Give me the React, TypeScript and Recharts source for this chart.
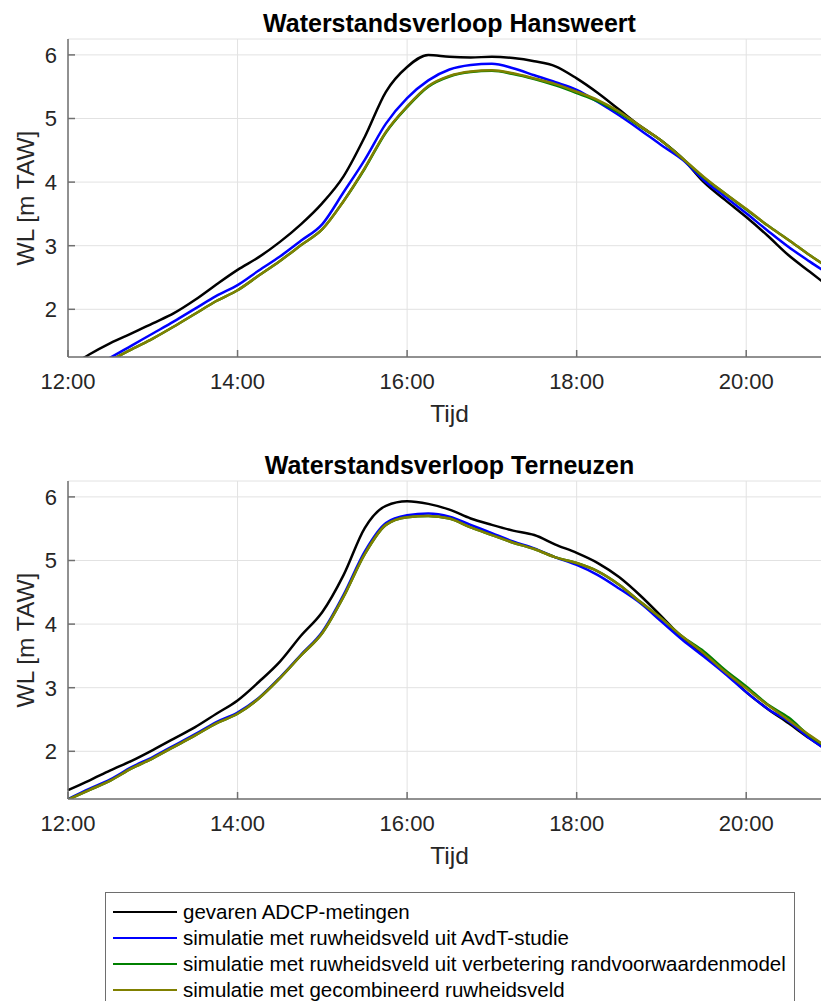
import { CartesianGrid, Line, LineChart, XAxis, YAxis } from 'recharts'

// tijd in uren (kwartierwaarden)
const tijd = [
  12, 12.25, 12.5, 12.75, 13, 13.25, 13.5, 13.75, 14, 14.25, 14.5, 14.75, 15, 15.25, 15.5, 15.75, 16, 16.25, 16.5,
  16.75, 17, 17.25, 17.5, 17.75, 18, 18.25, 18.5, 18.75, 19, 19.25, 19.5, 19.75, 20, 20.25, 20.5, 20.75, 21,
]

// Hansweert
const hwMeting = [
  1.08, 1.29, 1.47, 1.62, 1.78, 1.94, 2.15, 2.39, 2.62, 2.82, 3.06, 3.34, 3.67, 4.09, 4.71, 5.42, 5.81, 6.0, 5.97,
  5.96, 5.97, 5.95, 5.9, 5.82, 5.63, 5.4, 5.14, 4.88, 4.65, 4.37, 4.0, 3.72, 3.45, 3.16, 2.85, 2.59, 2.33,
]
const hwAvdt = [
  0.84, 1.04, 1.24, 1.43, 1.62, 1.81, 2.01, 2.21, 2.38, 2.61, 2.83, 3.08, 3.34, 3.84, 4.35, 4.92, 5.32, 5.6, 5.77,
  5.84, 5.86, 5.79, 5.68, 5.57, 5.45, 5.26, 5.05, 4.82, 4.58, 4.35, 4.03, 3.77, 3.51, 3.24, 2.98, 2.75, 2.53,
]
const hwRvm = [
  0.78, 0.98, 1.19, 1.37, 1.54, 1.73, 1.93, 2.13, 2.3, 2.53, 2.76, 3.01, 3.26, 3.7, 4.21, 4.78, 5.18, 5.5, 5.66,
  5.73, 5.75, 5.7, 5.62, 5.52, 5.4, 5.27, 5.09, 4.87, 4.65, 4.37, 4.07, 3.82, 3.57, 3.32, 3.09, 2.85, 2.63,
]
const hwComb = [
  0.78, 0.98, 1.19, 1.37, 1.54, 1.73, 1.93, 2.13, 2.3, 2.53, 2.76, 3.01, 3.26, 3.7, 4.22, 4.79, 5.19, 5.51, 5.67,
  5.74, 5.76, 5.71, 5.63, 5.54, 5.42, 5.29, 5.11, 4.88, 4.65, 4.37, 4.08, 3.82, 3.58, 3.32, 3.09, 2.85, 2.63,
]

// Terneuzen
const tzMeting = [
  1.39, 1.54, 1.7, 1.85, 2.02, 2.2, 2.38, 2.59, 2.8, 3.09, 3.41, 3.82, 4.19, 4.77, 5.51, 5.86, 5.93, 5.89, 5.8,
  5.66, 5.56, 5.47, 5.4, 5.25, 5.12, 4.96, 4.74, 4.45, 4.12, 3.78, 3.51, 3.25, 2.93, 2.67, 2.44, 2.2, 1.98,
]
const tzAvdt = [
  1.25, 1.41, 1.56, 1.75, 1.91, 2.09, 2.27, 2.46, 2.61, 2.84, 3.16, 3.52, 3.88, 4.46, 5.14, 5.59, 5.71, 5.74, 5.69,
  5.56, 5.43, 5.3, 5.19, 5.05, 4.93, 4.77, 4.56, 4.33, 4.04, 3.75, 3.49, 3.22, 2.93, 2.67, 2.47, 2.2, 1.98,
]
const tzRvm = [
  1.24, 1.39, 1.54, 1.73, 1.89, 2.07, 2.25, 2.44, 2.59, 2.83, 3.15, 3.51, 3.86, 4.43, 5.1, 5.56, 5.68, 5.7, 5.66,
  5.52, 5.4, 5.28, 5.18, 5.05, 4.96, 4.83, 4.62, 4.35, 4.09, 3.8, 3.57, 3.28, 3.02, 2.74, 2.53, 2.24, 2.03,
]
const tzComb = [
  1.24, 1.39, 1.54, 1.73, 1.89, 2.07, 2.25, 2.44, 2.59, 2.83, 3.15, 3.51, 3.86, 4.43, 5.1, 5.56, 5.68, 5.7, 5.66,
  5.52, 5.4, 5.28, 5.18, 5.05, 4.96, 4.83, 4.62, 4.35, 4.09, 3.8, 3.54, 3.25, 2.99, 2.73, 2.49, 2.25, 2.03,
]

const xTicks = [12, 14, 16, 18, 20]
const yTicks = [2, 3, 4, 5, 6]

const series = [
  { key: 'meting', name: 'gevaren ADCP-metingen', color: '#000000' },
  { key: 'avdt', name: 'simulatie met ruwheidsveld uit AvdT-studie', color: '#0000ff' },
  { key: 'rvm', name: 'simulatie met ruwheidsveld uit verbetering randvoorwaardenmodel', color: '#008000' },
  { key: 'comb', name: 'simulatie met gecombineerd ruwheidsveld', color: '#808000' },
]

const font = '"Liberation Sans", Arial, sans-serif'
const axisColor = '#707070'
const textColor = '#262626'

const Panel = ({ title, values, top }: { title: string; values: number[][]; top: number }) => {
  const data = tijd.map((t, i) => ({
    t,
    meting: values[0][i],
    avdt: values[1][i],
    rvm: values[2][i],
    comb: values[3][i],
  }))
  return (
    <div style={{ position: 'absolute', left: 0, top, width: 831, height: 440 }}>
      <div
        style={{
          position: 'absolute',
          left: 68,
          top: 10.5,
          width: 763,
          textAlign: 'center',
          fontWeight: 'bold',
          fontSize: 25,
          lineHeight: '25px',
          color: '#000',
        }}
      >
        {title}
      </div>
      <LineChart width={831} height={440} data={data} margin={{ top: 39, right: 0, bottom: 0, left: 0 }}>
        <CartesianGrid stroke="#e2e2e2" strokeWidth={1} />
        <XAxis
          dataKey="t"
          type="number"
          domain={[12, 21]}
          ticks={xTicks}
          tickFormatter={(h: number) => `${h}:00`}
          height={83}
          stroke={axisColor}
          strokeWidth={1.5}
          tickSize={-7}
          tickMargin={23}
          tick={{ fill: textColor, fontSize: 22 }}
          label={{ value: 'Tijd', position: 'insideBottom', offset: 18, fill: textColor, fontSize: 24.5 }}
        />
        <YAxis
          type="number"
          domain={[1.25, 6.25]}
          ticks={yTicks}
          allowDataOverflow
          width={68}
          stroke={axisColor}
          strokeWidth={1.5}
          tickSize={-7}
          tickMargin={18}
          tick={{ fill: textColor, fontSize: 22 }}
          label={{
            value: 'WL [m TAW]',
            angle: -90,
            position: 'insideLeft',
            offset: 25,
            fill: textColor,
            fontSize: 24.5,
            style: { textAnchor: 'middle' },
          }}
        />
        {series.map((s) => (
          <Line
            key={s.key}
            type="monotone"
            dataKey={s.key}
            stroke={s.color}
            strokeWidth={2.5}
            dot={false}
            isAnimationActive={false}
          />
        ))}
      </LineChart>
    </div>
  )
}

const App = () => {
  return (
    <div
      style={{
        position: 'absolute',
        left: 0,
        top: 0,
        width: 821,
        height: 1001,
        overflow: 'hidden',
        background: '#fff',
        fontFamily: font,
      }}
    >
      <Panel title="Waterstandsverloop Hansweert" values={[hwMeting, hwAvdt, hwRvm, hwComb]} top={0} />
      <Panel title="Waterstandsverloop Terneuzen" values={[tzMeting, tzAvdt, tzRvm, tzComb]} top={442} />
      <div
        style={{
          position: 'absolute',
          left: 105,
          top: 892,
          width: 690,
          height: 140,
          border: '1px solid #6e6e6e',
          background: '#fff',
          boxSizing: 'border-box',
        }}
      >
        {series.map((s, i) => (
          <div
            key={s.key}
            style={{ position: 'absolute', left: 0, top: 7 + i * 26, height: 24, display: 'flex', alignItems: 'center' }}
          >
            <div style={{ marginLeft: 7, width: 64, height: 2.5, background: s.color }} />
            <span style={{ marginLeft: 6, fontSize: 20.5, color: '#000', whiteSpace: 'nowrap' }}>{s.name}</span>
          </div>
        ))}
      </div>
    </div>
  )
}

export default App
